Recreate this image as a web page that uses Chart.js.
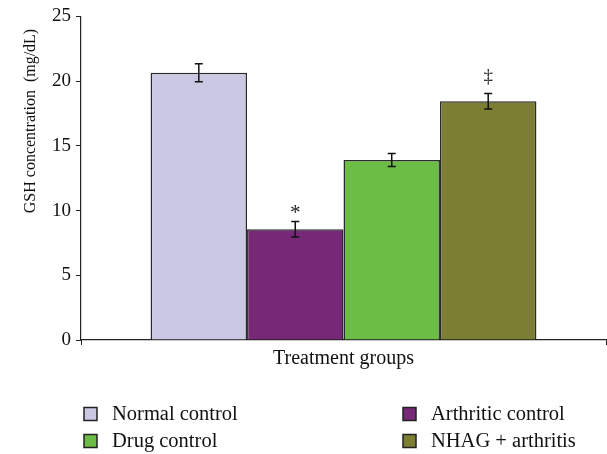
<!DOCTYPE html>
<html>
<head>
<meta charset="utf-8">
<script src="https://cdn.jsdelivr.net/npm/chart.js@4/dist/chart.umd.min.js"></script>
<style>
  html, body { margin: 0; padding: 0; background: #ffffff; }
  #wrap { width: 607px; height: 454px; }
</style>
</head>
<body>
<div id="wrap"><canvas id="c" width="607" height="454"></canvas></div>
<script>
// GSH concentration per treatment group (mean ± SE)
const groups = ['Normal control', 'Arthritic control', 'Drug control', 'NHAG + arthritis'];
const means = [20.65, 8.55, 13.9, 18.45];
const errors = [0.7, 0.6, 0.5, 0.6];
const marks = ['', '*', '', '\u2021'];
const colors = ['#cbc8e4', '#772876', '#6cbd45', '#7c7f33'];
const yTicks = [0, 5, 10, 15, 20, 25];
const yTitle = 'GSH concentration  (mg/dL)';

const SERIF = '"Liberation Serif", "DejaVu Serif", serif';

// error bars and significance marks on top of each bar
const errorBars = {
  id: 'errorBars',
  afterDatasetsDraw(chart) {
    const ctx = chart.ctx;
    const y = chart.scales.y;
    ctx.save();
    chart.data.datasets.forEach((ds, i) => {
      const bar = chart.getDatasetMeta(i).data[0];
      const v = ds.data[0];
      const e = ds.errors[0];
      const yt = y.getPixelForValue(v + e);
      const yb = y.getPixelForValue(v - e);
      const x = bar.x;
      ctx.strokeStyle = '#111';
      ctx.lineWidth = 1.5;
      ctx.beginPath();
      ctx.moveTo(x, yt); ctx.lineTo(x, yb);
      ctx.moveTo(x - 4, yt); ctx.lineTo(x + 4, yt);
      ctx.moveTo(x - 4, yb); ctx.lineTo(x + 4, yb);
      ctx.stroke();
      if (ds.mark) {
        // the asterisk glyph sits high in its em box, so it needs less lift
        const lift = ds.mark === '*' ? 8 : 16;
        ctx.fillStyle = '#222';
        ctx.font = (ds.mark === '*' ? '21px ' : '19px ') + SERIF;
        ctx.textAlign = 'center';
        ctx.textBaseline = 'middle';
        ctx.fillText(ds.mark, x, yt - lift);
      }
    });
    ctx.restore();
  }
};

// vertical axis title, placed toward the upper part of the axis
const yAxisTitle = {
  id: 'yAxisTitle',
  afterDraw(chart) {
    const ctx = chart.ctx;
    ctx.save();
    ctx.translate(31, 121);
    ctx.rotate(-Math.PI / 2);
    ctx.font = '16px ' + SERIF;
    ctx.fillStyle = '#111';
    ctx.textAlign = 'center';
    ctx.textBaseline = 'middle';
    ctx.fillText(yTitle, 0, 0);
    ctx.restore();
  }
};

// two-column legend under the plot
const gridLegend = {
  id: 'gridLegend',
  afterDraw(chart) {
    const ctx = chart.ctx;
    const cols = [84, 403];
    const rows = [414, 441];
    ctx.save();
    ctx.font = '20.5px ' + SERIF;
    ctx.textBaseline = 'middle';
    ctx.textAlign = 'left';
    chart.data.datasets.forEach((ds, k) => {
      const bx = cols[k % 2];
      const by = rows[Math.floor(k / 2)];
      ctx.fillStyle = ds.backgroundColor;
      ctx.fillRect(bx, by - 6.5, 13, 13);
      ctx.strokeStyle = '#222';
      ctx.lineWidth = 1.5;
      ctx.strokeRect(bx, by - 6.5, 13, 13);
      ctx.fillStyle = '#111';
      ctx.fillText(ds.label, bx + 28, by + 1);
    });
    ctx.restore();
  }
};

const datasets = groups.map((g, i) => ({
  label: g,
  data: [means[i]],
  errors: [errors[i]],
  mark: marks[i],
  backgroundColor: colors[i],
  borderColor: '#2a2a2a',
  borderWidth: 1.5,
  categoryPercentage: 0.735,
  barPercentage: 1.0
}));

new Chart(document.getElementById('c'), {
  type: 'bar',
  data: { labels: [''], datasets },
  plugins: [errorBars, yAxisTitle, gridLegend],
  options: {
    responsive: false,
    animation: false,
    devicePixelRatio: 1,
    layout: { padding: { left: 47, right: 1, top: 11, bottom: 83 } },
    plugins: {
      legend: { display: false },
      tooltip: { enabled: false }
    },
    scales: {
      x: {
        grid: { display: true, drawOnChartArea: false, drawTicks: true, tickLength: 5, color: '#222', lineWidth: 1 },
        border: { color: '#222', width: 1.2 },
        ticks: { display: false },
        title: { display: true, text: 'Treatment groups', color: '#111', font: { family: SERIF, size: 20 }, padding: { top: 2, bottom: 0 } }
      },
      y: {
        min: 0,
        max: 25,
        afterBuildTicks(scale) { scale.ticks = yTicks.map(v => ({ value: v })); },
        grid: { display: true, drawOnChartArea: false, drawTicks: true, tickLength: 5, color: '#222', lineWidth: 1 },
        border: { color: '#222', width: 1.2 },
        ticks: { color: '#111', font: { family: SERIF, size: 19 }, padding: 5 },
        title: { display: false }
      }
    }
  }
});
</script>
</body>
</html>
